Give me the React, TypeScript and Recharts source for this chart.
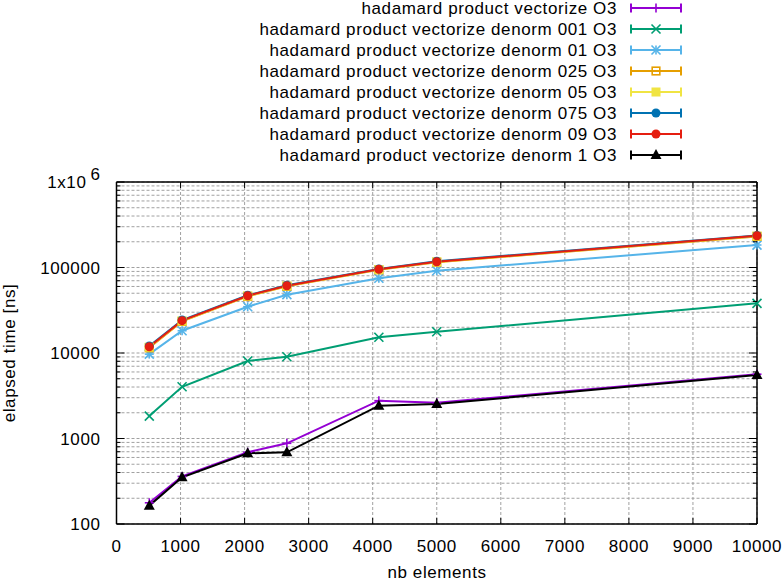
import React from 'react';
import { LineChart, Line, XAxis, YAxis, CartesianGrid } from 'recharts';

// ---- data ----
const elements = [512, 1024, 2048, 2660, 4096, 5000, 10000];
const vectorize = [177, 360, 690, 879, 2770, 2620, 5650];
const denorm001 = [1830, 4030, 8060, 9050, 15300, 17700, 38100];
const denorm01 = [9700, 18200, 34800, 48100, 74800, 91700, 183000];
const denorm025 = [11500, 23400, 46000, 60300, 94000, 115500, 231000];
const denorm05 = [11700, 23700, 46400, 60800, 94600, 116200, 233000];
const denorm075 = [12100, 24300, 47300, 62000, 96300, 118200, 237500];
const denorm09 = [11850, 23900, 46800, 61200, 95200, 116900, 235000];
const denorm1 = [164, 352, 671, 690, 2420, 2530, 5530];

const seriesNames = [
  'hadamard product vectorize O3',
  'hadamard product vectorize denorm 001 O3',
  'hadamard product vectorize denorm 01 O3',
  'hadamard product vectorize denorm 025 O3',
  'hadamard product vectorize denorm 05 O3',
  'hadamard product vectorize denorm 075 O3',
  'hadamard product vectorize denorm 09 O3',
  'hadamard product vectorize denorm 1 O3',
];
const seriesValues = [vectorize, denorm001, denorm01, denorm025, denorm05, denorm075, denorm09, denorm1];
const seriesColors = ['#9400D3', '#009E73', '#56B4E9', '#E69F00', '#F0E442', '#0072B2', '#E51E10', '#000000'];
const seriesShapes = ['plus', 'cross', 'star', 'square', 'fsquare', 'circle', 'circle', 'triangle'];

const xTicks = [0, 1000, 2000, 3000, 4000, 5000, 6000, 7000, 8000, 9000, 10000];
const yMajor = [100, 1000, 10000, 100000, 1000000];
const yMinorMult = [2, 3, 4, 5, 6, 7, 8, 9];
const yTicks: number[] = [];
for (let i = 0; i < yMajor.length; i++) {
  yTicks.push(yMajor[i]);
  if (i < yMajor.length - 1) yMinorMult.forEach((m) => yTicks.push(yMajor[i] * m));
}

const keys = seriesNames.map((_, i) => 's' + i);
const data = elements.map((x, j) => {
  const row: any = { x };
  seriesValues.forEach((vals, i) => (row[keys[i]] = vals[j]));
  return row;
});

const FONT = '"Liberation Sans", Arial, sans-serif';
const FS = 17;
const LS = 0.6;

function Marker({ shape, cx, cy, color }: { shape: string; cx: number; cy: number; color: string }) {
  const s = 4.5;
  const sw = 1.6;
  switch (shape) {
    case 'plus':
      return (
        <g stroke={color} strokeWidth={sw}>
          <line x1={cx - s} x2={cx + s} y1={cy} y2={cy} />
          <line x1={cx} x2={cx} y1={cy - s} y2={cy + s} />
        </g>
      );
    case 'cross':
      return (
        <g stroke={color} strokeWidth={sw}>
          <line x1={cx - s} x2={cx + s} y1={cy - s} y2={cy + s} />
          <line x1={cx - s} x2={cx + s} y1={cy + s} y2={cy - s} />
        </g>
      );
    case 'star':
      return (
        <g stroke={color} strokeWidth={sw}>
          <line x1={cx - s} x2={cx + s} y1={cy} y2={cy} />
          <line x1={cx} x2={cx} y1={cy - s} y2={cy + s} />
          <line x1={cx - s} x2={cx + s} y1={cy - s} y2={cy + s} />
          <line x1={cx - s} x2={cx + s} y1={cy + s} y2={cy - s} />
        </g>
      );
    case 'square':
      return <rect x={cx - 3.8} y={cy - 3.8} width={7.6} height={7.6} fill="none" stroke={color} strokeWidth={sw} />;
    case 'fsquare':
      return <rect x={cx - 4.5} y={cy - 4.5} width={9} height={9} fill={color} />;
    case 'circle':
      return <circle cx={cx} cy={cy} r={4.5} fill={color} />;
    case 'triangle':
      return <polygon points={`${cx},${cy - 6} ${cx + 5.5},${cy + 4} ${cx - 5.5},${cy + 4}`} fill={color} />;
    default:
      return null;
  }
}

const LeftTick = (props: any) => {
  const { x, y, payload } = props;
  const v = payload.value;
  const major = yMajor.includes(v);
  const ax = x + 16;
  return (
    <g>
      <line x1={ax} x2={ax + (major ? 8 : 4)} y1={y} y2={y} stroke="#000" strokeWidth={1} />
      {major && v === 1000000 ? (
        <text x={x} y={y + 6} textAnchor="end" fontFamily={FONT} fontSize={FS} fill="#000" style={{ letterSpacing: LS }}>
          <tspan>1x10</tspan>
          <tspan dx={4} dy={-8}>6</tspan>
        </text>
      ) : major ? (
        <text x={x} y={y + 6} textAnchor="end" fontFamily={FONT} fontSize={FS} fill="#000" style={{ letterSpacing: LS }}>
          {String(v)}
        </text>
      ) : null}
    </g>
  );
};

const RightTick = (props: any) => {
  const { x, y, payload } = props;
  const major = yMajor.includes(payload.value);
  return <line x1={x} x2={x - (major ? 8 : 4)} y1={y} y2={y} stroke="#000" strokeWidth={1} />;
};

const BottomTick = (props: any) => {
  const { x, y, payload } = props;
  return (
    <g>
      <line x1={x} x2={x} y1={y} y2={y - 6} stroke="#000" strokeWidth={1} />
      <text x={x} y={y + 28} textAnchor="middle" fontFamily={FONT} fontSize={FS} fill="#000" style={{ letterSpacing: LS }}>
        {String(payload.value)}
      </text>
    </g>
  );
};

const TopTick = (props: any) => {
  const { x, y } = props;
  return <line x1={x} x2={x} y1={y} y2={y + 6} stroke="#000" strokeWidth={1} />;
};

function Legend() {
  return (
    <svg width={783} height={170} style={{ position: 'absolute', left: 0, top: 0 }}>
      {seriesNames.map((name, i) => {
        const y = 8 + i * 21;
        const c = seriesColors[i];
        return (
          <g key={name}>
            <text x={617} y={y + 6} textAnchor="end" fontFamily={FONT} fontSize={FS} fill="#000" style={{ letterSpacing: LS }}>
              {name}
            </text>
            <line x1={631} x2={681} y1={y} y2={y} stroke={c} strokeWidth={2} />
            <line x1={631} x2={631} y1={y - 4.5} y2={y + 4.5} stroke={c} strokeWidth={2} />
            <line x1={681} x2={681} y1={y - 4.5} y2={y + 4.5} stroke={c} strokeWidth={2} />
            <Marker shape={seriesShapes[i]} cx={656} cy={y} color={c} />
          </g>
        );
      })}
    </svg>
  );
}

export default function App() {
  return (
    <div style={{ position: 'absolute', left: 0, top: 0, width: 783, height: 582, background: '#fff' }}>
      <LineChart width={783} height={582} data={data} margin={{ top: 172, right: 0, bottom: 0, left: 16.5 }}>
        <CartesianGrid xAxisId="b" yAxisId="l" stroke="#a0a0a0" strokeDasharray="3 2" strokeWidth={1} />
        <XAxis
          xAxisId="b"
          dataKey="x"
          type="number"
          domain={[0, 10000]}
          ticks={xTicks}
          interval={0}
          height={58}
          tickSize={0}
          tickMargin={0}
          tickLine={false}
          axisLine={{ stroke: '#000', strokeWidth: 1.5 }}
          tick={<BottomTick />}
          label={() => (
            <text x={437} y={578} textAnchor="middle" fontFamily={FONT} fontSize={FS} fill="#000" style={{ letterSpacing: LS }}>
              nb elements
            </text>
          )}
        />
        <XAxis
          xAxisId="t"
          orientation="top"
          type="number"
          dataKey="x"
          domain={[0, 10000]}
          ticks={xTicks}
          interval={0}
          height={10}
          tickSize={0}
          tickMargin={0}
          tickLine={false}
          axisLine={{ stroke: '#000', strokeWidth: 1.5 }}
          tick={<TopTick />}
        />
        <YAxis
          yAxisId="l"
          scale="log"
          type="number"
          domain={[100, 1000000]}
          allowDataOverflow
          ticks={yTicks}
          interval={0}
          width={100}
          tickSize={0}
          tickMargin={16}
          tickLine={false}
          axisLine={{ stroke: '#000', strokeWidth: 1.5 }}
          tick={<LeftTick />}
          label={() => (
            <text
              transform="translate(15, 353) rotate(-90)"
              textAnchor="middle"
              fontFamily={FONT}
              fontSize={FS}
              fill="#000"
              style={{ letterSpacing: LS }}
            >
              elapsed time [ns]
            </text>
          )}
        />
        <YAxis
          yAxisId="r"
          orientation="right"
          scale="log"
          type="number"
          domain={[100, 1000000]}
          allowDataOverflow
          ticks={yTicks}
          interval={0}
          width={26}
          tickSize={0}
          tickMargin={0}
          tickLine={false}
          axisLine={{ stroke: '#000', strokeWidth: 1.5 }}
          tick={<RightTick />}
        />
        {keys.map((k, i) => (
          <Line
            key={k}
            xAxisId="b"
            yAxisId="l"
            dataKey={k}
            stroke={seriesColors[i]}
            strokeWidth={2}
            isAnimationActive={false}
            dot={(p: any) => (
              <Marker key={k + '-' + p.index} shape={seriesShapes[i]} cx={p.cx} cy={p.cy} color={seriesColors[i]} />
            )}
            activeDot={false}
          />
        ))}
      </LineChart>
      <Legend />
    </div>
  );
}
